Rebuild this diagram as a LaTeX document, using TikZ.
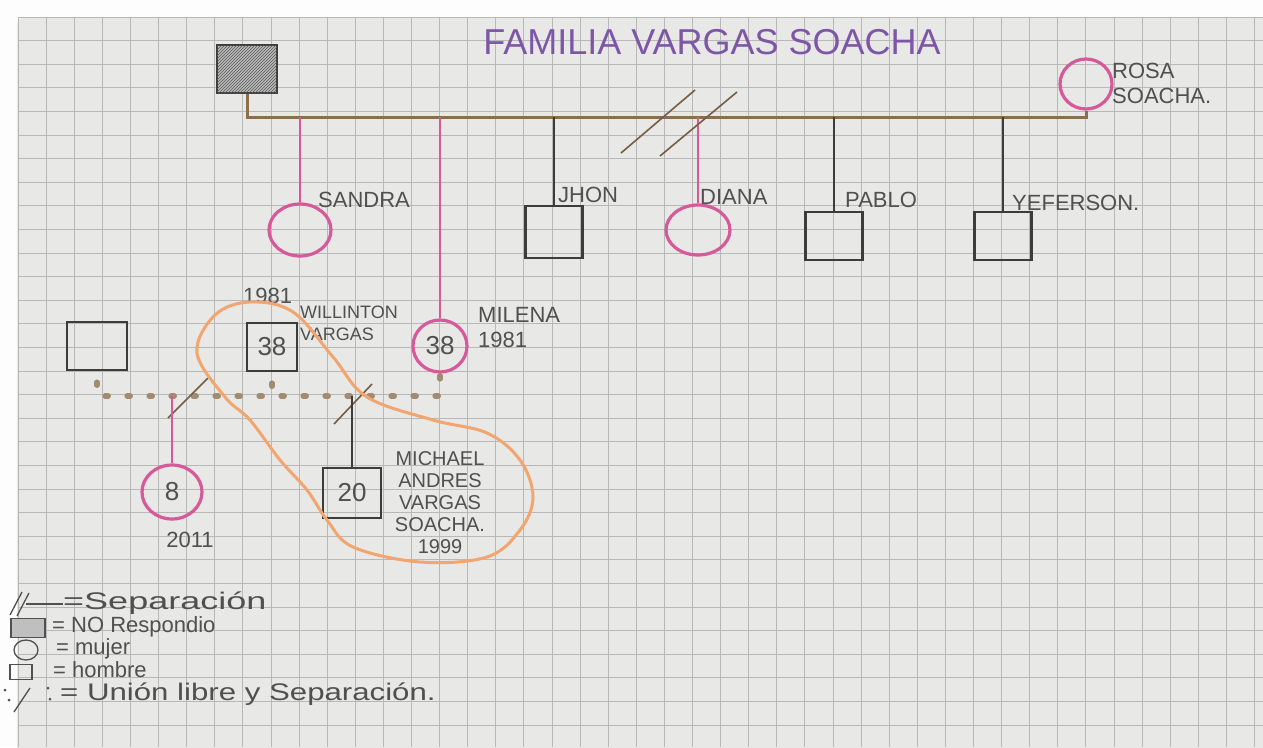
\documentclass[tikz,border=0pt]{standalone}
\usepackage{fontspec}
\usepackage{xcolor}
\usepackage{tikz}
\usetikzlibrary{positioning,shapes.geometric,patterns}
\newfontfamily\hand{Liberation Sans}
\newfontfamily\handwide{Liberation Sans}[FakeStretch=1.3]
\newfontfamily\handwider{Liberation Sans}[FakeStretch=1.5]
\definecolor{paper}{HTML}{E8E8E6}
\definecolor{rule}{HTML}{B8B8B8}
\definecolor{ink}{HTML}{3C3C3C}
\definecolor{pencil}{HTML}{505050}
\definecolor{rosa}{HTML}{D65A9A}
\definecolor{cafe}{HTML}{8A6E4E}
\definecolor{naranja}{HTML}{F2A56E}
\definecolor{morado}{HTML}{7E56A8}

\begin{document}
\begin{tikzpicture}[
x=1pt, y=-1pt,
hombre/.style={draw=ink, line width=2.4pt, minimum width=57pt, minimum height=48pt, inner sep=0pt, text=pencil, font=\hand\fontsize{26}{26}\selectfont},
mujer/.style={ellipse, draw=rosa, line width=3.2pt, minimum width=58pt, minimum height=52pt, inner sep=0pt, text=pencil, font=\hand\fontsize{26}{26}\selectfont},
nombre/.style={anchor=west, inner sep=0pt, text=pencil, align=left, font=\hand\fontsize{22}{25}\selectfont},
linea/.style={draw=ink, line width=2.2pt},
lineaf/.style={draw=rosa, line width=2.6pt},
hermanos/.style={draw=cafe, line width=3pt},
corte/.style={draw=cafe!85!black, line width=1.6pt},
libre/.style={draw=cafe!80, line width=5.5pt, line cap=round, dash pattern=on 3pt off 19pt, dash phase=11pt},
hogar/.style={draw=naranja, line width=3pt},
leyenda/.style={anchor=west, inner sep=0pt, text=pencil, font=\hand\fontsize{22}{22}\selectfont},
simbolo/.style={draw=pencil, line width=1.3pt, inner sep=0pt}
]
\useasboundingbox (0,0) rectangle (1263,747);

% hoja cuadriculada
\fill[white!92!paper] (0,0) rectangle (1263,747);
\fill[paper, rounded corners=8pt] (17,17) rectangle (1275,760);
\draw[rule, line width=0.8pt, xstep=28.1pt, ystep=23.6pt, shift={(18,17)}] (0,0) grid (1245,730);

\node[font=\hand\fontsize{36}{36}\selectfont, text=morado] (titulo) at (712,42) {FAMILIA VARGAS SOACHA};

% padres
\node[hombre, minimum width=60pt, fill=gray!55, postaction={pattern=north east lines, pattern color=gray!70!black}] (padre) at (247,69) {};
\node[mujer, minimum width=52pt, minimum height=50pt] (rosa) at (1086,84) {};
\node[nombre] (lrosa) at (1112,83) {ROSA\\SOACHA.};
\coordinate (hl) at (247,117);
\draw[hermanos] (padre.south) -- (padre.south |- hl) -- (rosa.south |- hl) -- (rosa.south);

% hijos
\node[mujer, minimum width=62pt] (sandra) at (300,230) {};
\node[mujer, minimum width=54pt, minimum height=52pt] (milena) at (440,346) {38};
\node[hombre, minimum height=52pt] (jhon) at (554,232) {};
\node[mujer, minimum width=64pt, minimum height=50pt] (diana) at (698,230) {};
\node[hombre] (pablo) at (834,236) {};
\node[hombre] (yeferson) at (1003,236) {};
\draw[lineaf] (sandra.north |- hl) -- (sandra.north);
\draw[lineaf] (milena.north |- hl) -- (milena.north);
\draw[linea] (jhon.north |- hl) -- (jhon.north);
\draw[lineaf] (diana.north |- hl) -- (diana.north);
\draw[linea] (pablo.north |- hl) -- (pablo.north);
\draw[linea] (yeferson.north |- hl) -- (yeferson.north);
\draw[corte] (621,153) -- (695,90);
\draw[corte] (660,156) -- (737,92);

\node[nombre] (lsandra) at (318,200) {SANDRA};
\node[nombre] (ljhon) at (558,195) {JHON};
\node[nombre] (ldiana) at (700,197) {DIANA};
\node[nombre] (lpablo) at (845,200) {PABLO};
\node[nombre] (lyeferson) at (1012,203) {YEFERSON.};

% segunda generacion
\node[hombre, minimum width=60pt] (pareja) at (97,346) {};
\node[hombre, minimum width=50pt] (willinton) at (272,347) {38};
\node[nombre] (anowillinton) at (243,296) {1981};
\node[nombre, font=\hand\fontsize{18}{22}\selectfont] (lwillinton) at (300,323) {WILLINTON\\VARGAS};
\node[nombre] (lmilena) at (478,328) {MILENA\\1981};

\coordinate (union) at (97,396);
\draw[libre] (pareja.south) -- (pareja.south |- union) -- (milena.south |- union) -- (milena.south);
\draw[libre] (willinton.south) -- (willinton.south |- union);
\draw[corte] (168,418) -- (208,378);
\draw[corte] (334,424) -- (372,384);

\node[mujer, minimum width=60pt, minimum height=54pt] (hija) at (172,492) {8};
\node[hombre, minimum width=58pt, minimum height=50pt] (michael) at (352,493) {20};
\draw[lineaf] (hija.north |- union) -- (hija.north);
\draw[linea] (michael.north |- union) -- (michael.north);
\node[nombre, anchor=center] (anohija) at (190,540) {2011};
\node[nombre, anchor=center, align=center, font=\hand\fontsize{20}{22}\selectfont] (lmichael) at (440,503) {MICHAEL\\ANDRES\\VARGAS\\SOACHA.\\1999};

\draw[hogar] plot[smooth cycle, tension=0.6] coordinates {(197,353) (215,315) (250,302) (293,312) (333,357) (367,397) (433,420) (487,433) (520,460) (533,497) (520,530) (487,557) (420,562) (353,547) (327,520) (307,490) (280,460) (250,420) (225,397)};

% convenciones
\draw[simbolo] (26,604) -- (63,604);
\draw[simbolo] (10,615) -- (22,592);
\draw[simbolo] (17,616) -- (29,593);
\node[leyenda, font=\handwider\fontsize{24}{24}\selectfont] (lsep) at (63,603) {=Separación};
\node[simbolo, fill=gray!50, minimum width=34pt, minimum height=19pt] (sresp) at (28,628) {};
\node[leyenda] (lresp) at (52,627) {= NO Respondio};
\node[simbolo, ellipse, minimum width=24pt, minimum height=20pt] (smujer) at (26,650) {};
\node[leyenda] (lmujer) at (56,649) {= mujer};
\node[simbolo, minimum width=22pt, minimum height=15pt] (shombre) at (21,672) {};
\node[leyenda] (lhombre) at (53,670) {= hombre};
\fill[pencil] (5,690) circle (1.5pt) (9,700) circle (1.5pt) (48,688) circle (1.5pt) (50,699) circle (1.5pt);
\draw[simbolo] (14,712) -- (30,688);
\node[leyenda, font=\handwide\fontsize{24}{24}\selectfont] (llibre) at (60,694) {= Unión libre y Separación.};
\end{tikzpicture}
\end{document}
